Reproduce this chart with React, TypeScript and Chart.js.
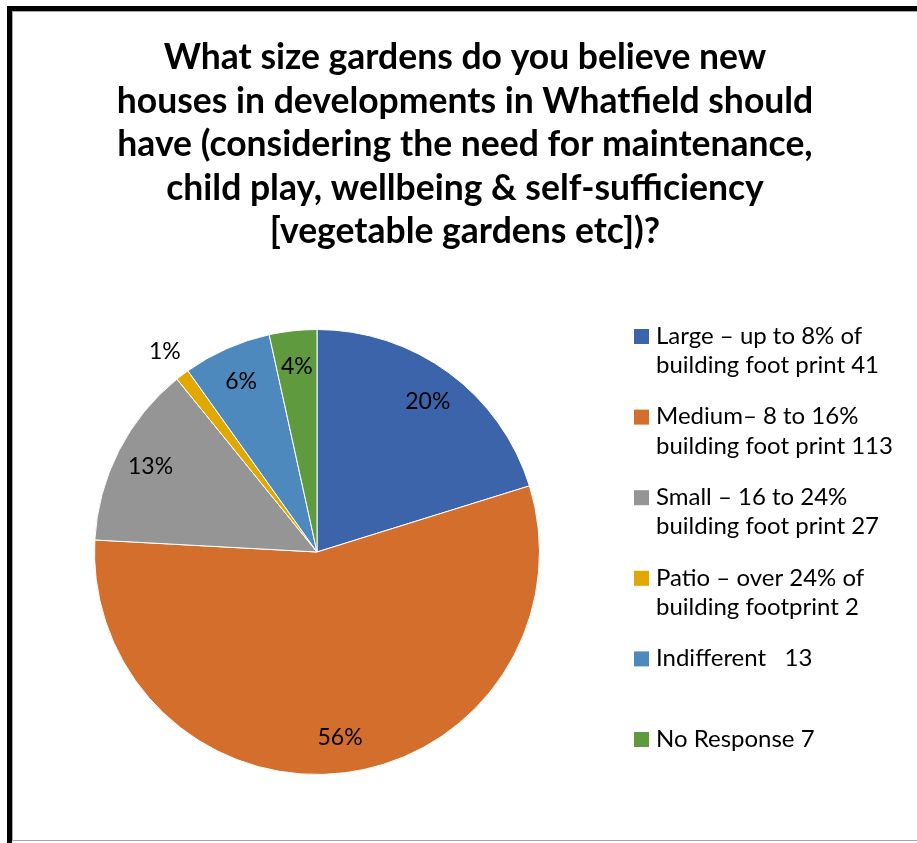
import React, { useEffect, useRef } from "react";
import { Chart, registerables } from "chart.js";

Chart.register(...registerables);

const TITLE_LINES = [
  "What size gardens do you believe new",
  "houses in developments in Whatfield should",
  "have (considering the need for maintenance,",
  "child play, wellbeing & self-sufficiency",
  "[vegetable gardens etc])?",
];

const CATEGORIES: string[][] = [
  ["Large – up to 8% of", "building foot print 41"],
  ["Medium– 8 to 16%", "building foot print 113"],
  ["Small – 16 to 24%", "building foot print 27"],
  ["Patio – over 24% of", "building footprint 2"],
  ["Indifferent   13"],
  ["No Response 7"],
];

const VALUES = [41, 113, 27, 2, 13, 7];

// Percentage labels as printed on the original chart
const PCT_LABELS = ["20%", "56%", "13%", "1%", "6%", "4%"];

const COLORS = ["#3C64AB", "#D46E2C", "#959595", "#E0A800", "#4E89BD", "#5F9A3F"];

const FONT = "Lato, 'Liberation Sans', sans-serif";

const titlePlugin = {
  id: "customTitle",
  afterDraw(chart: any) {
    const ctx = chart.ctx;
    ctx.save();
    ctx.fillStyle = "#000";
    ctx.font = `bold 35.5px ${FONT}`;
    ctx.textAlign = "center";
    ctx.textBaseline = "middle";
    const cx = chart.width / 2;
    TITLE_LINES.forEach((line, i) => {
      ctx.fillText(line, cx, 46 + i * 43.5);
    });
    ctx.restore();
  },
};

const legendPlugin = {
  id: "customLegend",
  afterDraw(chart: any) {
    const ctx = chart.ctx;
    const labels = chart.data.labels as string[][];
    const colors = chart.data.datasets[0].backgroundColor as string[];
    ctx.save();
    ctx.font = `24px ${FONT}`;
    ctx.textBaseline = "middle";
    ctx.textAlign = "left";
    labels.forEach((lines, i) => {
      const y0 = 324 + i * 80.6;
      ctx.fillStyle = colors[i];
      ctx.fillRect(621, y0 - 7, 15, 15);
      ctx.fillStyle = "#000";
      lines.forEach((ln, j) => {
        ctx.fillText(ln, 643, y0 + j * 29.5);
      });
    });
    ctx.restore();
  },
};

const dataLabelPlugin = {
  id: "pctLabels",
  afterDatasetsDraw(chart: any) {
    const ctx = chart.ctx;
    const meta = chart.getDatasetMeta(0);
    const data = chart.data.datasets[0].data as number[];
    const total = data.reduce((a, b) => a + b, 0);
    ctx.save();
    ctx.font = `23px ${FONT}`;
    ctx.fillStyle = "#000";
    ctx.textAlign = "center";
    ctx.textBaseline = "middle";
    meta.data.forEach((arc: any, i: number) => {
      const p = arc.getProps(["x", "y", "startAngle", "endAngle", "outerRadius"], true);
      const frac = data[i] / total;
      const mid = (p.startAngle + p.endAngle) / 2;
      const dist = frac < 0.02 ? p.outerRadius * 1.13 : p.outerRadius * 0.84;
      const x = p.x + Math.cos(mid) * dist;
      const y = p.y + Math.sin(mid) * dist;
      ctx.fillText(PCT_LABELS[i], x, y);
    });
    ctx.restore();
  },
};

export default function App() {
  const ref = useRef<HTMLCanvasElement>(null);
  useEffect(() => {
    if (!ref.current) return;
    const chart = new Chart(ref.current, {
      type: "pie",
      data: {
        labels: CATEGORIES as any,
        datasets: [
          {
            data: VALUES,
            backgroundColor: COLORS,
            borderColor: "#ffffff",
            borderWidth: 1,
          },
        ],
      },
      options: {
        responsive: false,
        animation: false,
        devicePixelRatio: 1,
        layout: { padding: { left: 81, right: 377, top: 316, bottom: 64 } },
        plugins: {
          legend: { display: false },
          title: { display: false },
          tooltip: { enabled: false },
        },
      },
      plugins: [titlePlugin, legendPlugin, dataLabelPlugin],
    });
    return () => chart.destroy();
  }, []);

  return (
    <div
      style={{
        position: "fixed",
        left: 0,
        top: 0,
        width: 917,
        height: 843,
        background: "#fff",
        overflow: "hidden",
      }}
    >
      <div
        style={{
          position: "absolute",
          left: 7,
          top: 6,
          width: 930,
          height: 850,
          borderLeft: "5px solid #000",
          borderTop: "5px solid #000",
          boxSizing: "border-box",
        }}
      />
      <div
        style={{
          position: "absolute",
          left: 12,
          top: 11,
          width: 930,
          height: 830,
          border: "1px solid #a6a6a6",
          boxSizing: "border-box",
        }}
      />
      <canvas
        ref={ref}
        width={904}
        height={828}
        style={{ position: "absolute", left: 13, top: 12, width: 904, height: 828 }}
      />
    </div>
  );
}
